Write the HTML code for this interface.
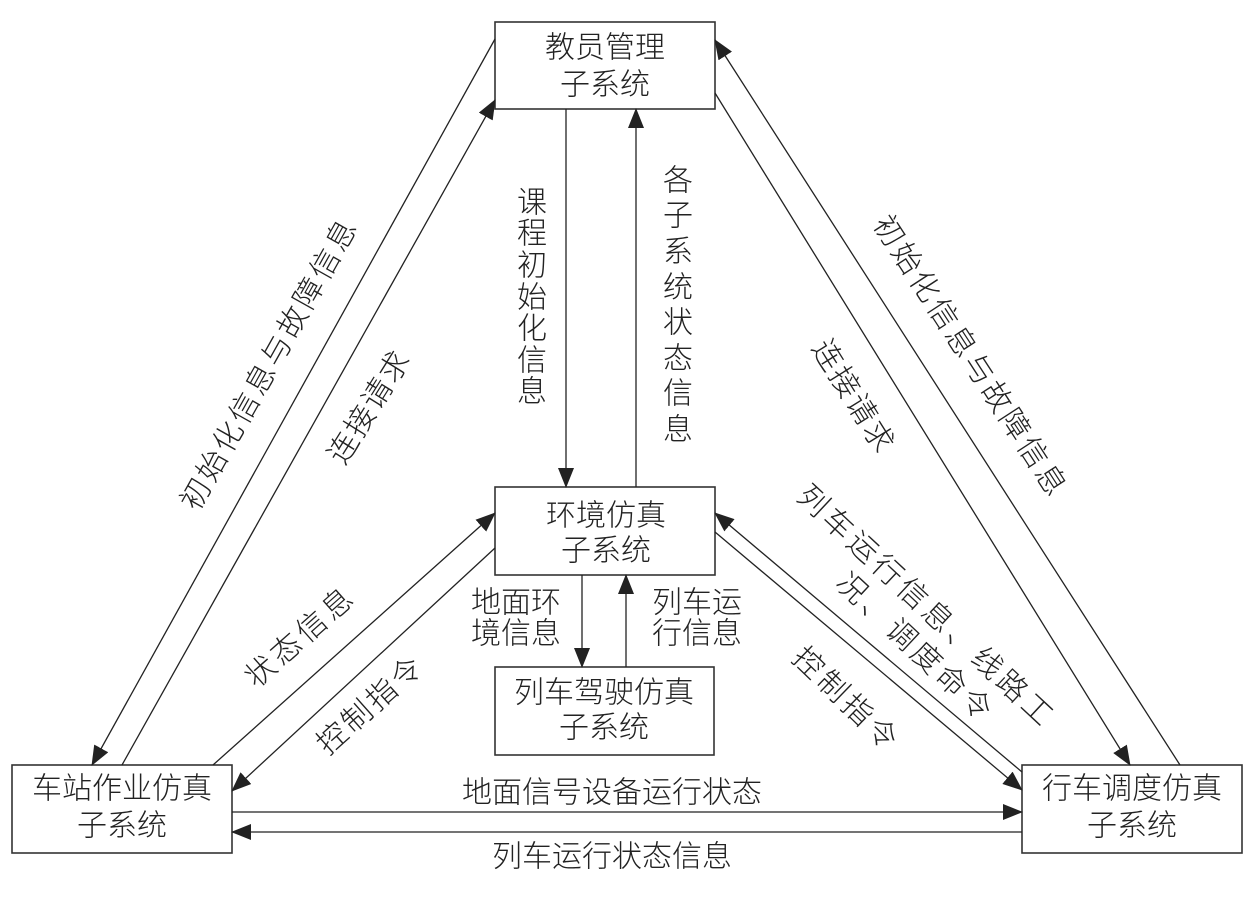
<!DOCTYPE html>
<html><head><meta charset="utf-8"><style>
html,body{margin:0;padding:0;background:#fff;}
svg{display:block;}
text{font-family:"Liberation Sans","Noto Sans CJK SC",sans-serif;font-size:30px;fill:#222;font-weight:300;}
</style></head><body>
<svg width="1260" height="907" viewBox="0 0 1260 907" xmlns="http://www.w3.org/2000/svg">
<defs>
<marker id="a" viewBox="0 0 20 16" markerWidth="20" markerHeight="16" refX="19" refY="8" orient="auto" markerUnits="userSpaceOnUse"><path d="M0,0 L20,8 L0,16 z" fill="#222"/></marker>
</defs>
<g fill="none" stroke="#333" stroke-width="1.6">
<rect x="495" y="22" width="220" height="87"/>
<rect x="495" y="487" width="220" height="88"/>
<rect x="495" y="667" width="219" height="88"/>
<rect x="12" y="765" width="220" height="88"/>
<rect x="1022" y="765" width="220" height="88"/>
</g>
<g stroke="#222" stroke-width="1.3" marker-end="url(#a)">
<line x1="495" y1="39" x2="92" y2="765"/>
<line x1="122" y1="765" x2="495" y2="100"/>
<line x1="1180" y1="765" x2="715" y2="40"/>
<line x1="715" y1="93" x2="1130" y2="765"/>
<line x1="566" y1="109" x2="566" y2="487"/>
<line x1="636" y1="487" x2="636" y2="109"/>
<line x1="582" y1="575" x2="582" y2="667"/>
<line x1="626" y1="667" x2="626" y2="575"/>
<line x1="213" y1="765" x2="495" y2="513"/>
<line x1="495" y1="548" x2="232" y2="791"/>
<line x1="1022" y1="772" x2="715" y2="513"/>
<line x1="715" y1="532" x2="1022" y2="790"/>
<line x1="232" y1="812" x2="1022" y2="812"/>
<line x1="1022" y1="832" x2="232" y2="832"/>
</g>
<g text-anchor="middle" dominant-baseline="central">
<text x="605" y="48">教员管理</text>
<text x="605" y="85">子系统</text>
<text x="606" y="516">环境仿真</text>
<text x="606" y="551">子系统</text>
<text x="604" y="693">列车驾驶仿真</text>
<text x="604" y="728">子系统</text>
<text x="122" y="789">车站作业仿真</text>
<text x="122" y="826">子系统</text>
<text x="1132" y="789">行车调度仿真</text>
<text x="1132" y="826">子系统</text>
<text x="516" y="603">地面环</text>
<text x="516" y="634">境信息</text>
<text x="697" y="603">列车运</text>
<text x="697" y="634">行信息</text>
<text x="612" y="793">地面信号设备运行状态</text>
<text x="612" y="857">列车运行状态信息</text>
<text x="532" y="203">课</text><text x="532" y="234">程</text><text x="532" y="266">初</text><text x="532" y="298">始</text><text x="532" y="329">化</text><text x="532" y="361">信</text><text x="532" y="392">息</text>
<text x="678" y="181">各</text><text x="678" y="216">子</text><text x="678" y="252">系</text><text x="678" y="288">统</text><text x="678" y="323">状</text><text x="678" y="359">态</text><text x="678" y="394">信</text><text x="678" y="430">息</text>
<text transform="translate(270,364) rotate(-60.7)" letter-spacing="3">初始化信息与故障信息</text>
<text transform="translate(370,407) rotate(-58)" letter-spacing="2">连接请求</text>
<text transform="translate(970,357) rotate(57)" letter-spacing="3">初始化信息与故障信息</text>
<text transform="translate(853,397) rotate(58)" letter-spacing="2">连接请求</text>
<text transform="translate(301,637) rotate(-41.5)" letter-spacing="4">状态信息</text>
<text transform="translate(371,705) rotate(-41.7)" letter-spacing="3">控制指令</text>
<text transform="translate(846,700) rotate(44)" letter-spacing="4">控制指令</text>
<text transform="translate(926,607) rotate(43)" letter-spacing="4">列车运行信息、线路工</text>
<text transform="translate(915,648) rotate(43)" letter-spacing="4">况、调度命令</text>
</g>
</svg>
</body></html>
